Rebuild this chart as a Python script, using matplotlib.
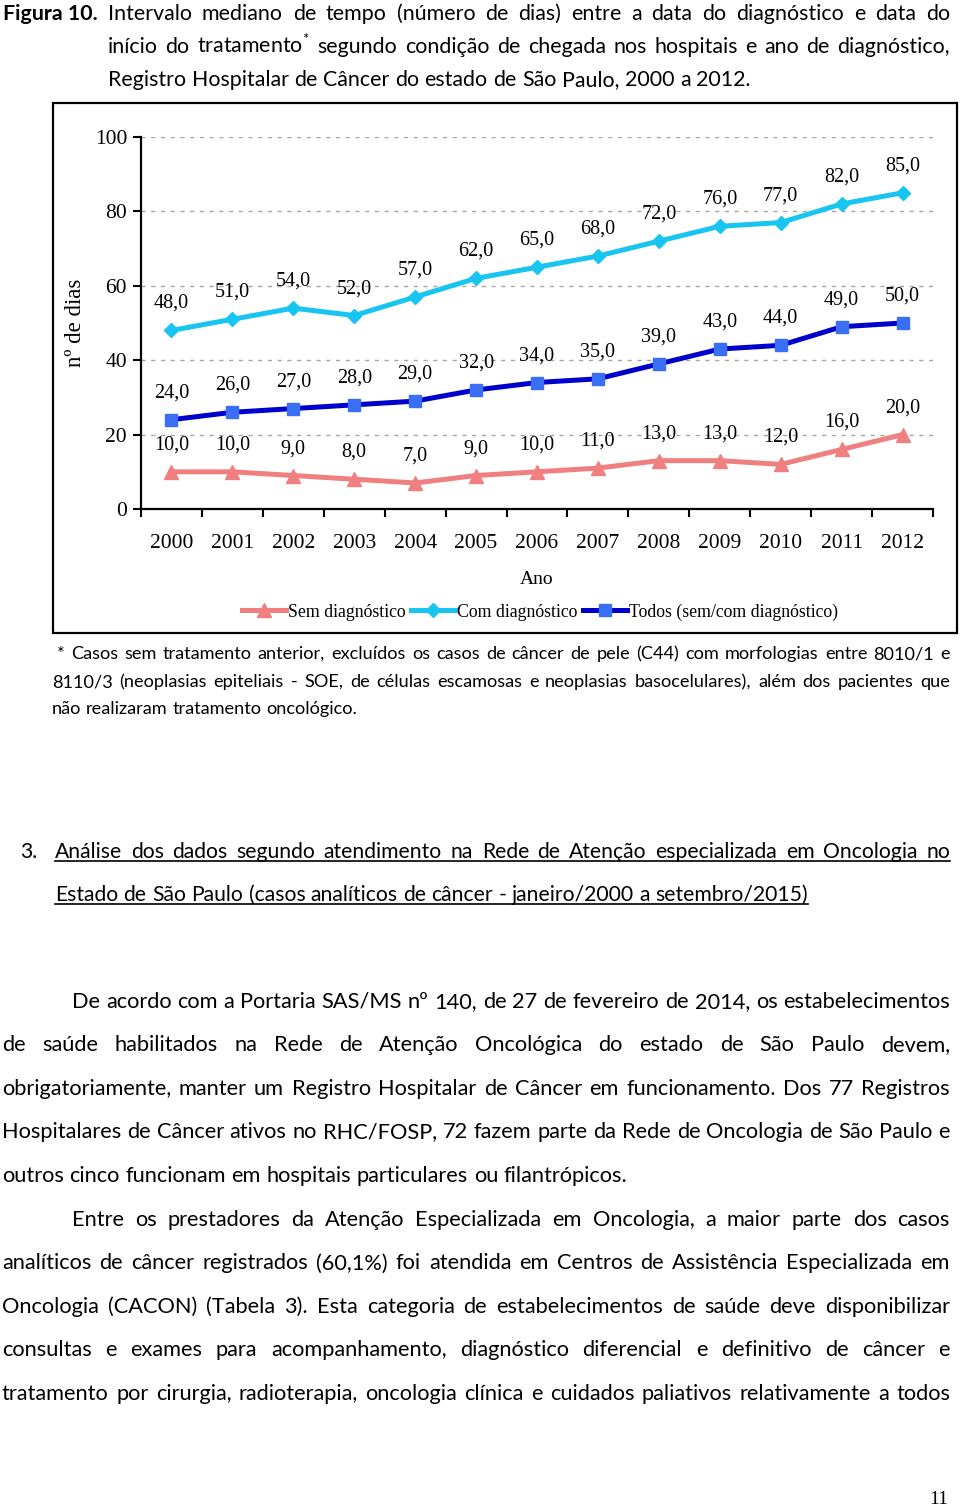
import numpy as np
import matplotlib.pyplot as plt
from matplotlib.patches import Rectangle
from matplotlib.lines import Line2D

# data
years = ['2000', '2001', '2002', '2003', '2004', '2005', '2006',
         '2007', '2008', '2009', '2010', '2011', '2012']
sem_diag = [10, 10, 9, 8, 7, 9, 10, 11, 13, 13, 12, 16, 20]
com_diag = [48, 51, 54, 52, 57, 62, 65, 68, 72, 76, 77, 82, 85]
todos = [24, 26, 27, 28, 29, 32, 34, 35, 39, 43, 44, 49, 50]
y_ticks = [0, 20, 40, 60, 80, 100]

W, H = 960, 1508
body_font = 'Lato'
serif = 'Liberation Serif'

plt.rcParams['mathtext.fontset'] = 'custom'
plt.rcParams['mathtext.rm'] = body_font

fig = plt.figure(figsize=(W / 100, H / 100), dpi=100)
renderer = fig.canvas.get_renderer()


def put_line(s, x0, y, size, x1=None, family=body_font, **kw):
    # place a line of words, justified between x0 and x1 (pixels) if x1 given
    words = s.split(' ')
    objs = [fig.text(0, 1 - y / H, w, fontsize=size, family=family,
                     va='baseline', ha='left', **kw) for w in words]
    widths = [o.get_window_extent(renderer).width for o in objs]
    if x1 is not None and len(words) > 1:
        gap = (x1 - x0 - sum(widths)) / (len(words) - 1)
    else:
        a = fig.text(0, 0, 'a a', fontsize=size, family=family, **kw)
        b = fig.text(0, 0, 'aa', fontsize=size, family=family, **kw)
        gap = a.get_window_extent(renderer).width - b.get_window_extent(renderer).width
        a.remove()
        b.remove()
    x = x0
    for o, w in zip(objs, widths):
        o.set_x(x / W)
        x += w + gap
    return x - gap


# ---- caption
cap_size = 15.4
fig.text(3 / W, 1 - 20 / H, 'Figura 10.', fontsize=cap_size, family=body_font,
         fontweight='bold', va='baseline')
put_line('Intervalo mediano de tempo (número de dias) entre a data do diagnóstico e data do',
         108, 20, cap_size, 950)
put_line('início do tratamento$^{*}$ segundo condição de chegada nos hospitais e ano de diagnóstico,',
         108, 53, cap_size, 950)
put_line('Registro Hospitalar de Câncer do estado de São Paulo, 2000 a 2012.', 108, 86, cap_size)

# ---- chart
fig.add_artist(Rectangle((53 / W, 1 - 633 / H), 904 / W, 530 / H, fill=False,
                         lw=1.6, ec='black', transform=fig.transFigure))

ax = fig.add_axes([141 / W, 1 - 509 / H, 792 / W, 372 / H])
x = np.arange(len(years))

ax.plot(x, sem_diag, color='#F08080', lw=3.6, marker='^', ms=10,
        label='Sem diagnóstico', zorder=3)
ax.plot(x, com_diag, color='#18C4F0', lw=3.6, marker='D', ms=7,
        label='Com diagnóstico', zorder=3)
ax.plot(x, todos, color='#0000CD', lw=3.6, marker='s', ms=9, mfc='#3A6EF5',
        mec='#3A6EF5', label='Todos (sem/com diagnóstico)', zorder=3)

for series in (sem_diag, com_diag, todos):
    for xi, v in zip(x, series):
        ax.annotate(f'{v:.1f}'.replace('.', ','), (xi, v), xytext=(0, 19.4),
                    textcoords='offset points', ha='center', va='center',
                    fontsize=14.5, family=serif)

ax.set_xlim(-0.5, len(years) - 0.5)
ax.set_ylim(0, 100)
ax.set_yticks(y_ticks)
ax.set_yticklabels([str(t) for t in y_ticks], family=serif, fontsize=15.5)
ax.set_xticks(np.arange(-0.5, len(years), 1))
ax.set_xticklabels([])
ax.set_xticks(x, minor=True)
ax.set_xticklabels(years, minor=True, family=serif, fontsize=15.5)
ax.tick_params(axis='x', which='major', direction='out', length=6, width=1.5)
ax.tick_params(axis='x', which='minor', length=0, pad=18)
ax.tick_params(axis='y', direction='out', length=6, width=1.5, pad=4)

ax.grid(axis='y', color='#A6A6A6', lw=1, linestyle=(0, (3, 4)))
ax.set_axisbelow(True)
for side in ('top', 'right'):
    ax.spines[side].set_visible(False)
for side in ('left', 'bottom'):
    ax.spines[side].set_linewidth(1.6)

ax.set_xlabel('Ano', family=serif, fontsize=14, labelpad=13)
ax.set_ylabel('nº de dias', family=serif, fontsize=16.5, labelpad=6)

fig.legend(loc='center', bbox_to_anchor=(540 / W, 1 - 612 / H), ncol=3,
           frameon=False, prop={'family': serif, 'size': 12.8},
           handlelength=2.5, handletextpad=0.1, columnspacing=0.3)

# ---- footnote
fn_size = 13.1
put_line('* Casos sem tratamento anterior, excluídos os casos de câncer de pele (C44) com morfologias entre 8010/1 e',
         57, 659, fn_size, 950)
put_line('8110/3 (neoplasias epiteliais - SOE, de células escamosas e neoplasias basocelulares), além dos pacientes que',
         52, 687, fn_size, 950)
put_line('não realizaram tratamento oncológico.', 52, 714, fn_size)

# ---- section heading
head_size = 15.2
fig.text(20 / W, 1 - 858 / H, '3.', fontsize=head_size, family=body_font, va='baseline')
put_line('Análise dos dados segundo atendimento na Rede de Atenção especializada em Oncologia no',
         55, 858, head_size, 950)
end = put_line('Estado de São Paulo (casos analíticos de câncer - janeiro/2000 a setembro/2015)',
               55, 901, head_size)
fig.add_artist(Line2D([55 / W, 950 / W], [1 - 861 / H] * 2, color='black', lw=1.2))
fig.add_artist(Line2D([55 / W, end / W], [1 - 904 / H] * 2, color='black', lw=1.2))

# ---- body paragraphs
body_size = 15.7
para1 = [
    'De acordo com a Portaria SAS/MS nº 140, de 27 de fevereiro de 2014, os estabelecimentos',
    'de saúde habilitados na Rede de Atenção Oncológica do estado de São Paulo devem,',
    'obrigatoriamente, manter um Registro Hospitalar de Câncer em funcionamento. Dos 77 Registros',
    'Hospitalares de Câncer ativos no RHC/FOSP, 72 fazem parte da Rede de Oncologia de São Paulo e',
    'outros cinco funcionam em hospitais particulares ou filantrópicos.',
]
para2 = [
    'Entre os prestadores da Atenção Especializada em Oncologia, a maior parte dos casos',
    'analíticos de câncer registrados (60,1%) foi atendida em Centros de Assistência Especializada em',
    'Oncologia (CACON) (Tabela 3). Esta categoria de estabelecimentos de saúde deve disponibilizar',
    'consultas e exames para acompanhamento, diagnóstico diferencial e definitivo de câncer e',
    'tratamento por cirurgia, radioterapia, oncologia clínica e cuidados paliativos relativamente a todos',
]
for i, s in enumerate(para1):
    x0 = 72 if i == 0 else 2
    x1 = None if i == len(para1) - 1 else 950
    put_line(s, x0, 1008 + i * 43.4, body_size, x1)
for i, s in enumerate(para2):
    x0 = 72 if i == 0 else 2
    put_line(s, x0, 1226 + i * 43.4, body_size, 950)

fig.text(948 / W, 1 - 1504 / H, '11', fontsize=14, family=serif, ha='right',
         va='baseline')

fig.savefig('out.png', dpi=100)
